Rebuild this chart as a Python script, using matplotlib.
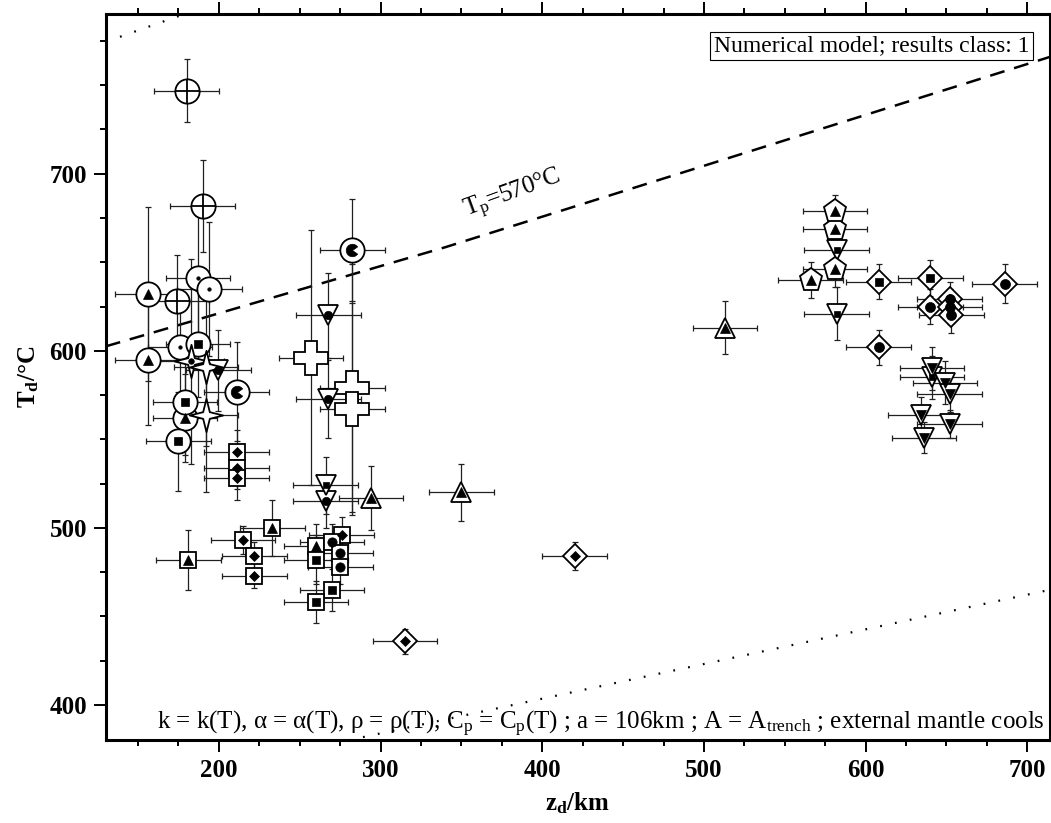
import numpy as np
import matplotlib
matplotlib.use('Agg')
import matplotlib.pyplot as plt
from matplotlib.path import Path
from matplotlib.ticker import MultipleLocator

plt.rcParams['font.family'] = ['Liberation Serif', 'DejaVu Serif']
plt.rcParams['mathtext.fontset'] = 'custom'
plt.rcParams['mathtext.rm'] = 'Liberation Serif'
plt.rcParams['mathtext.it'] = 'Liberation Serif:italic'
plt.rcParams['mathtext.bf'] = 'Liberation Serif:bold'

# depth z_d (km), temperature T_d (degC), error on T_d; depth error is the same everywhere
z_err = 20

circ_plus_z = [180, 190, 174]
circ_plus_T = [747, 682, 628]
circ_plus_dT = [18, 26, 26]

circ_tri_z = [156, 156, 179]
circ_tri_T = [632, 595, 562]
circ_tri_dT = [49, 37, 25]

circ_dot_z = [187, 194, 176]
circ_dot_T = [641, 635, 602]
circ_dot_dT = [35, 38, 30]

circ_sq_z = [187, 179, 175]
circ_sq_T = [604, 571, 549]
circ_sq_dT = [30, 30, 28]

circ_pac_z = [211, 282.5]
circ_pac_T = [577, 657]
circ_pac_dT = [28, 29]

star_dot_z = [183]
star_dot_T = [594]
star_dot_dT = [58]

star_z = [192, 192]
star_T = [591, 564]
star_dT = [45, 44]

plus_z = [257, 282.5, 282.5]
plus_T = [596, 579, 567]
plus_dT = [72, 70, 60]

tdn_dot_z = [199.6, 267.6, 267.6, 266]
tdn_dot_T = [589, 620, 573, 515]
tdn_dot_dT = [23, 24, 22, 15]

tdn_sq_z = [266, 582, 582, 641]
tdn_sq_T = [524, 657, 621, 585]
tdn_sq_dT = [16, 10, 15, 12]

tdn_tdn_z = [641, 649, 652, 634, 652, 636]
tdn_tdn_T = [590, 582, 575.5, 564, 558.5, 551]
tdn_tdn_dT = [12, 12, 10, 10, 8, 9]

tup_z = [294, 350, 513]
tup_T = [517, 520, 613]
tup_dT = [18, 16, 15]

sq_tri_z = [181, 233, 260]
sq_tri_T = [482, 500, 490]
sq_tri_dT = [17, 16, 12]

sq_dia_z = [211, 211, 211, 215, 222, 222, 276]
sq_dia_T = [543, 534, 528, 493, 484, 473, 496]
sq_dia_dT = [12, 12, 12, 8, 8, 7, 10]

sq_sq_z = [260, 270, 260]
sq_sq_T = [482, 465, 458]
sq_sq_dT = [14, 12, 12]

sq_circ_z = [270, 275, 275]
sq_circ_T = [492, 486, 478]
sq_circ_dT = [10, 10, 10]

dia_dia_z = [315, 420]
dia_dia_T = [436, 484]
dia_dia_dT = [7, 8]

dia_sq_z = [608, 640]
dia_sq_T = [639, 641]
dia_sq_dT = [10, 10]

dia_circ_z = [686, 640, 652, 652, 653, 608]
dia_circ_T = [638, 625, 629, 625, 620, 602]
dia_circ_dT = [11, 10, 10, 10, 10, 10]

pent_tri_z = [566, 581, 581, 581]
pent_tri_T = [640, 646, 669, 679]
pent_tri_dT = [10, 10, 9, 9]

# reference curves
tp_z = [130, 340, 714]
tp_T = [602.5, 658.5, 766]
upper_z = [130, 178]
upper_T = [774.5, 790]
lower_z = [280, 714]
lower_T = [380, 465]

# custom markers
star4 = Path([(0, 1), (0.2, 0.2), (1, 0), (0.2, -0.2), (0, -1),
              (-0.2, -0.2), (-1, 0), (-0.2, 0.2), (0, 1)],
             [Path.MOVETO] + [Path.LINETO] * 7 + [Path.CLOSEPOLY])
pacman = Path.wedge(35, 325)

# (z, T, dT, outer marker, outer size, inner marker, inner size)
groups = [
    (circ_tri_z, circ_tri_T, circ_tri_dT, 'o', 17.5, '^', 7),
    (circ_plus_z, circ_plus_T, circ_plus_dT, 'o', 17.5, '+', 17),
    (circ_dot_z, circ_dot_T, circ_dot_dT, 'o', 17.5, 'o', 2.5),
    (circ_sq_z, circ_sq_T, circ_sq_dT, 'o', 17.5, 's', 6),
    (circ_pac_z, circ_pac_T, circ_pac_dT, 'o', 17.5, pacman, 9),
    (plus_z, plus_T, plus_dT, 'P', 24, None, 0),
    (tdn_dot_z, tdn_dot_T, tdn_dot_dT, 'v', 15, 'o', 6),
    (tdn_sq_z, tdn_sq_T, tdn_sq_dT, 'v', 15, 's', 4.5),
    (tdn_tdn_z, tdn_tdn_T, tdn_tdn_dT, 'v', 15, 'v', 7),
    (tup_z, tup_T, tup_dT, '^', 15, '^', 7),
    (sq_tri_z, sq_tri_T, sq_tri_dT, 's', 12, '^', 6.5),
    (sq_dia_z, sq_dia_T, sq_dia_dT, 's', 12, 'D', 5),
    (sq_sq_z, sq_sq_T, sq_sq_dT, 's', 12, 's', 5.3),
    (sq_circ_z, sq_circ_T, sq_circ_dT, 's', 12, 'o', 6.7),
    (dia_dia_z, dia_dia_T, dia_dia_dT, 'D', 12.5, 'D', 5),
    (dia_sq_z, dia_sq_T, dia_sq_dT, 'D', 12.5, 's', 5.3),
    (dia_circ_z, dia_circ_T, dia_circ_dT, 'D', 12.5, 'o', 7.2),
    (pent_tri_z, pent_tri_T, pent_tri_dT, 'p', 17, '^', 6.5),
    (star_dot_z, star_dot_T, star_dot_dT, star4, 24, 'o', 4),
    (star_z, star_T, star_dT, star4, 24, None, 0),
]

fig = plt.figure(figsize=(10.51, 8.23), dpi=100)
ax = fig.add_axes([0.1006, 0.1005, 0.8984, 0.882])

for z, T, dT, outer, osize, inner, isize in groups:
    ax.errorbar(z, T, xerr=z_err, yerr=dT, fmt='none', ecolor='#202020',
                elinewidth=0.9, capsize=2.5, capthick=0.9, zorder=2)
for z, T, dT, outer, osize, inner, isize in groups:
    ax.plot(z, T, ls='none', marker=outer, ms=osize, mfc='white',
            mec='black', mew=1.3, zorder=3)
    if inner == '+':
        ax.plot(z, T, ls='none', marker='+', ms=isize, mec='black',
                mew=1.3, zorder=4)
    elif inner is not None:
        ax.plot(z, T, ls='none', marker=inner, ms=isize, mfc='black',
                mec='black', mew=0.5, zorder=4)

ax.plot(tp_z, tp_T, color='black', lw=1.8, ls=(0, (6, 4)), zorder=1)
ax.plot(upper_z, upper_T, color='black', lw=1.6, ls=(0, (0.8, 6)), zorder=1)
ax.plot(lower_z, lower_T, color='black', lw=1.6, ls=(0, (0.8, 6)), zorder=1)

ax.set_xlim(130, 714)
ax.set_ylim(380, 790)
ax.xaxis.set_major_locator(MultipleLocator(100))
ax.xaxis.set_minor_locator(MultipleLocator(25))
ax.yaxis.set_major_locator(MultipleLocator(100))
ax.yaxis.set_minor_locator(MultipleLocator(25))
ax.tick_params(which='both', direction='out', top=True, right=True,
               width=1.4, labelsize=18)
ax.tick_params(which='major', length=8.5, pad=5)
ax.tick_params(which='minor', length=4.5)
for lbl in ax.get_xticklabels() + ax.get_yticklabels():
    lbl.set_fontweight('bold')
for sp in ax.spines.values():
    sp.set_linewidth(2.2)

ax.set_xlabel(r'$\mathbf{z_d}$/km', fontsize=18, fontweight='bold', labelpad=6)
ax.set_ylabel(r'$\mathbf{T_d}$/°C', fontsize=18, fontweight='bold', labelpad=6)

ax.text(382, 688, r'T$_\mathrm{p}$=570°C', fontsize=18, rotation=20,
        ha='center', va='center')
ax.text(0.978, 0.971, 'Numerical model; results class: 1', transform=ax.transAxes,
        fontsize=17, ha='right', va='top',
        bbox=dict(boxstyle='square,pad=0.15', fc='white', ec='black', lw=0.8))
ax.text(0.995, 0.015,
        r'k = k(T), α = α(T), ρ = ρ(T), C$_\mathrm{p}$ = C$_\mathrm{p}$(T) ; '
        r'a = 106km ; A = A$_\mathrm{trench}$ ; external mantle cools',
        transform=ax.transAxes, fontsize=18, ha='right', va='baseline')

fig.savefig('out.png', dpi=100)
